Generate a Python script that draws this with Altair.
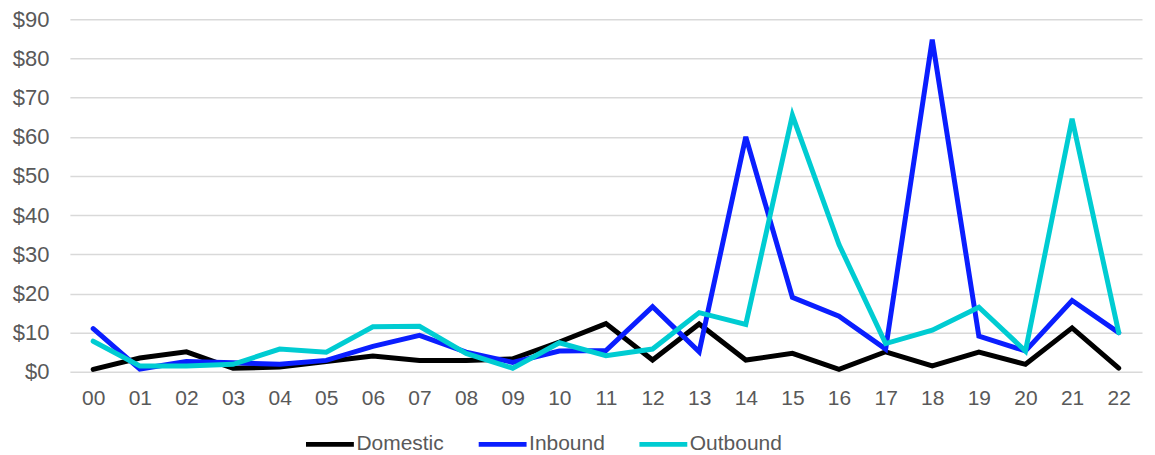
import altair as alt
import pandas as pd

categories = ["00","01","02","03","04","05","06","07","08","09","10","11",
              "12","13","14","15","16","17","18","19","20","21","22"]
domestic = [0.6, 3.5, 5.1, 0.9, 1.2, 2.6, 4.0, 2.9, 2.9, 3.3, 7.6, 12.3,
            3.0, 12.2, 3.0, 4.7, 0.6, 5.1, 1.5, 5.0, 1.9, 11.2, 0.9]
inbound = [11.0, 0.7, 2.6, 2.3, 1.9, 2.9, 6.5, 9.3, 5.0, 2.4, 5.3, 5.4,
           16.6, 5.1, 60.0, 19.0, 14.2, 5.8, 84.8, 9.1, 5.3, 18.2, 10.0]
outbound = [7.8, 1.5, 1.5, 1.9, 5.8, 5.0, 11.5, 11.6, 4.7, 0.9, 7.4, 4.1,
            5.8, 15.1, 12.1, 65.5, 32.5, 7.2, 10.6, 16.5, 5.3, 64.6, 10.0]
series = ["Domestic", "Inbound", "Outbound"]
colors = ["#000000", "#0A1EFF", "#00CCD2"]

rows = []
for name, vals in zip(series, [domestic, inbound, outbound]):
    for c, v in zip(categories, vals):
        rows.append({"hour": c, "value": v, "series": name})
df = pd.DataFrame(rows)

FONT = "Liberation Sans"
GRAY = "#595959"

chart = alt.Chart(df).mark_line(strokeWidth=5, strokeCap="round", strokeJoin="miter").encode(
    x=alt.X("hour:O", sort=categories, title=None,
            axis=alt.Axis(labelAngle=0, domain=False, ticks=False, labelPadding=16,
                          labelFontSize=21, labelColor=GRAY, labelFont=FONT)),
    y=alt.Y("value:Q", title=None, scale=alt.Scale(domain=[0, 90], nice=False),
            axis=alt.Axis(values=list(range(0, 100, 10)), labelExpr="'$' + datum.value",
                          domain=False, ticks=False, labelPadding=21,
                          labelFontSize=22, labelColor=GRAY, labelFont=FONT,
                          gridColor="#D9D9D9", gridWidth=1.5)),
    color=alt.Color("series:N", sort=series,
                    scale=alt.Scale(domain=series, range=colors),
                    legend=alt.Legend(title=None, orient="none", direction="horizontal",
                                      legendX=234, legendY=399,
                                      symbolType="stroke", symbolSize=2300,
                                      symbolStrokeWidth=5, labelFontSize=21,
                                      labelColor=GRAY, labelFont=FONT,
                                      labelOffset=0, columnPadding=24)),
).properties(
    width=1074, height=353,
    autosize=alt.AutoSizeParams(type="none"),
    padding={"left": 62, "top": 11, "right": 5, "bottom": 83},
).configure_view(stroke=None)

chart.save("out.html", embed_options={"renderer": "svg", "actions": False})
